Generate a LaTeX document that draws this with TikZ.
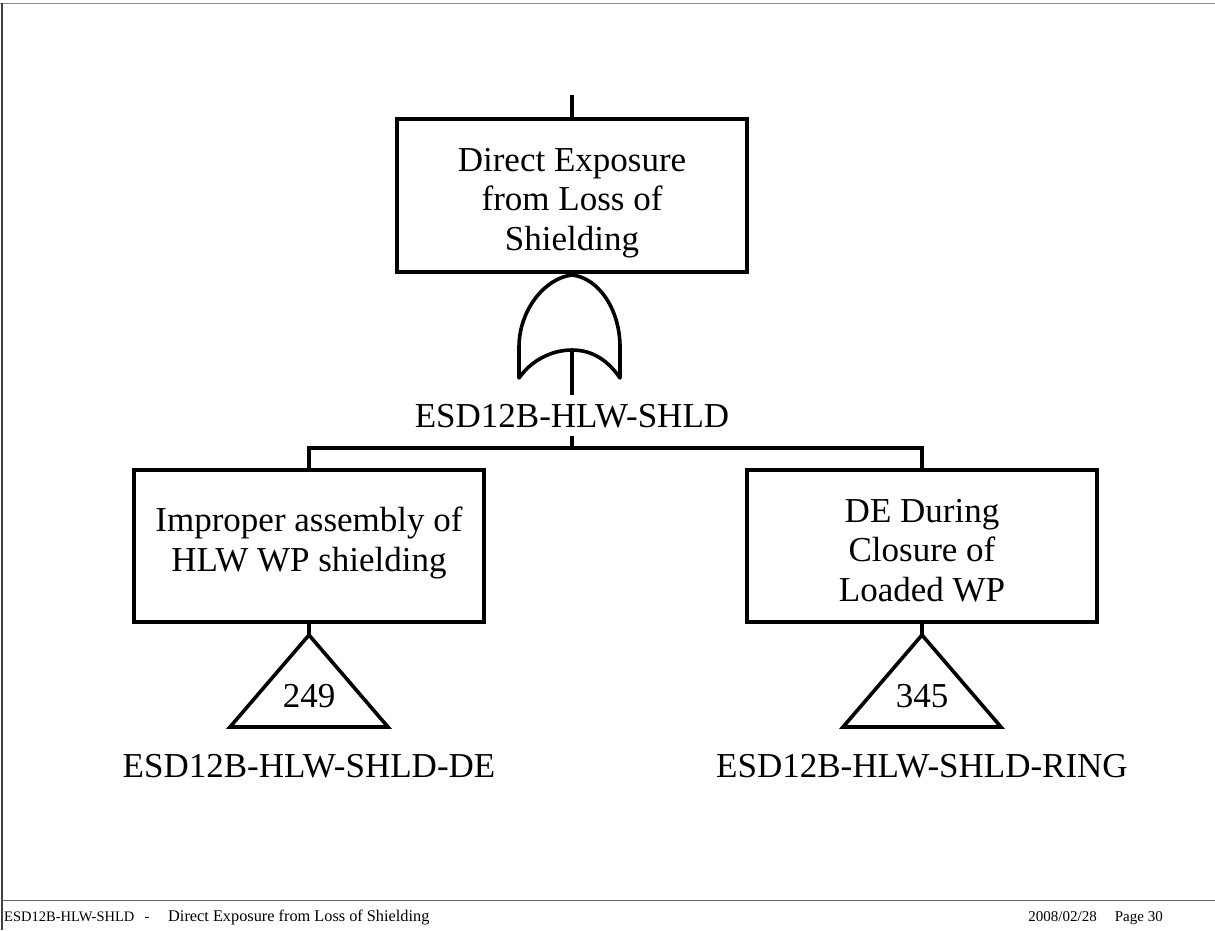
\documentclass[tikz,border=0pt]{standalone}
\usepackage{fontspec}
\setmainfont{Liberation Serif}
\begin{document}
\begin{tikzpicture}[x=1pt,y=-1pt,
  gline/.style={line width=3.6pt},
  evbox/.style={draw, line width=3.6pt, minimum width=350pt, inner sep=0pt},
  btext/.style={align=center, inner sep=0pt, font=\fontsize{35}{39.5}\selectfont},
  lbl/.style={inner sep=0pt, font=\fontsize{35}{42}\selectfont},
  foot/.style={inner sep=0pt, font=\fontsize{15}{18}\selectfont},
  frame/.style={line width=1.5pt}]
\useasboundingbox (0,0) rectangle (1215,930);
% page frame
\draw[frame, color=black!45] (0,3.5) -- (1215,3.5);
\draw[frame, color=black!75] (2,3) -- (2,930);
\draw[frame, color=black!60] (2,900.5) -- (1215,900.5);

% top event
\node[evbox, minimum height=153pt] (top) at (572,195.5) {};
\node[btext, anchor=north] (toptext) at (572,147.8) {Direct Exposure\\from Loss of\\Shielding};
\coordinate (topin) at (572,95);
\draw[gline] (topin) -- (top.north);

% OR gate
\draw[gline, line join=round] (519,378) -- (519,347)
  .. controls (519,310) and (545,278) .. (572,275)
  .. controls (599,278) and (620,310) .. (620,347) -- (620,378)
  .. controls (609,362) and (594,350) .. (572,350)
  .. controls (550,350) and (530,362) .. (519,378) -- cycle;
\coordinate (gin) at (572,350);
\node[lbl, anchor=base, inner ysep=8.5pt] (orlab) at (572,427) {ESD12B-HLW-SHLD};
\draw[gline] (gin) -- (orlab.north);
\coordinate (junc) at (572,448);
\draw[gline] (orlab.south) -- (junc);

% children
\node[evbox, minimum height=152pt] (left) at (309,546) {};
\node[evbox, minimum height=152pt] (right) at (922,546) {};
\draw[gline] (left.north) |- (junc) -| (right.north);
\node[btext, anchor=north] (lefttext) at (309,507) {Improper assembly of\\HLW WP shielding};
\node[btext, anchor=north] (righttext) at (922,499) {DE During\\Closure of\\Loaded WP};

% transfer triangles
\coordinate (lapex) at (309,635);
\draw[gline] (left.south) -- (lapex);
\draw[gline] (lapex) -- (388,727) -- (230,727) -- cycle;
\node[lbl, anchor=base] (lnum) at (309,707) {249};
\node[lbl, anchor=base] (llab) at (309,777) {ESD12B-HLW-SHLD-DE};

\coordinate (rapex) at (922,635);
\draw[gline] (right.south) -- (rapex);
\draw[gline] (rapex) -- (1001,727) -- (843,727) -- cycle;
\node[lbl, anchor=base] (rnum) at (922,707) {345};
\node[lbl, anchor=base] (rlab) at (922,777) {ESD12B-HLW-SHLD-RING};

% footer
\node[foot, anchor=base west, font=\fontsize{14.5}{18}\selectfont] (f1) at (4,921.5) {ESD12B-HLW-SHLD};
\node[foot, anchor=base] (f2) at (147,921.5) {-};
\node[foot, anchor=base west, font=\fontsize{16.3}{18}\selectfont] (f3) at (168,921.5) {Direct Exposure from Loss of Shielding};
\node[foot, anchor=base east] (f4) at (1097,921.5) {2008/02/28};
\node[foot, anchor=base east] (f5) at (1163,921.5) {Page 30};
\end{tikzpicture}
\end{document}
